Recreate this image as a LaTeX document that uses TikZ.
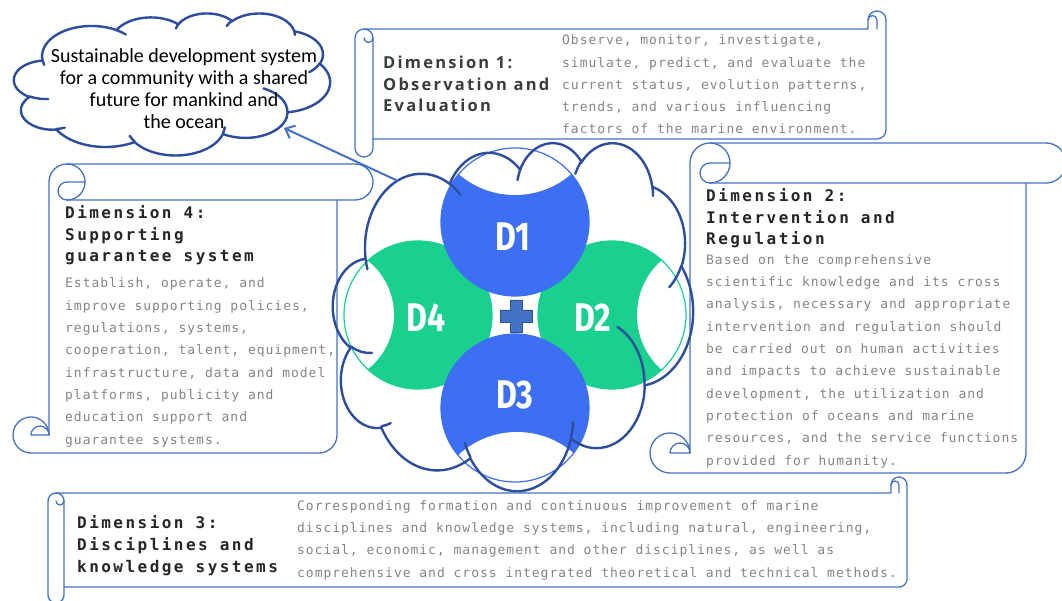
\documentclass[tikz,border=0pt]{standalone}
\usepackage{fontspec}
\usetikzlibrary{arrows.meta}
\setmainfont{Noto Sans}
\newfontfamily\cloudfont{Carlito}
\newfontfamily\bodyfont[LetterSpace=7.5]{DejaVu Sans Mono}
\newfontfamily\monotitle[LetterSpace=15.4]{DejaVu Sans Mono}
\newfontfamily\sanstitle[LetterSpace=13.5]{Open Sans}
\newfontfamily\dfont[FakeStretch=0.8]{Fira Sans}
\definecolor{sblue}{HTML}{4472C4}
\definecolor{navy}{HTML}{2F4D9E}
\definecolor{dblue}{HTML}{3D6FF2}
\definecolor{dgreen}{HTML}{19D08F}
\definecolor{bodygray}{HTML}{858585}
\definecolor{titlegray}{HTML}{262626}
\definecolor{plusedge}{HTML}{2F5597}
\tikzset{
  scrollline/.style={draw=sblue, line width=1.3pt, line join=round, line cap=round},
  cloudline/.style={draw=navy, line width=2.4pt, line cap=round},
  bodytext/.style={font={\bodyfont\fontsize{13}{22.3}\selectfont}, text=bodygray, align=left, inner sep=0pt, anchor=base west},
  monohead/.style={font={\monotitle\bfseries\fontsize{16}{21.5}\selectfont}, text=titlegray, align=left, inner sep=0pt, anchor=base west},
  sanshead/.style={font={\sanstitle\bfseries\fontsize{16.5}{21.5}\selectfont}, text=titlegray!90, align=left, inner sep=0pt, anchor=base west},
  dlabel/.style={font={\dfont\bfseries\fontsize{40}{40}\selectfont}, text=white, inner sep=0pt},
  arrowline/.style={draw=sblue, line width=2pt, -{Straight Barb[length=8pt,width=14pt]}},
}
% PowerPoint-like cloud arc: wR hR stAng swAng (visual angles, degrees)
\newcommand\carc[4]{arc[x radius=#1, y radius=#2, start angle={atan2(#1*sin(#3),#2*cos(#3))}, delta angle={mod(atan2(#1*sin(#3+#4),#2*cos(#3+#4))-atan2(#1*sin(#3),#2*cos(#3))+720,360)}]}
\newcommand\pptcloud[4]{%
\begin{scope}[shift={(#1,#2)}, xscale=#3/43.2, yscale=#4/43.2]
\draw[cloudline] (3.900,14.370) \carc{6.753}{9.190}{-190.4875}{123.7805}
  \carc{5.333}{7.267}{-144.1024}{89.9452}
  \carc{4.365}{5.945}{-145.8079}{99.7230}
  \carc{4.857}{6.595}{-130.9861}{117.2417}
  \carc{5.333}{7.273}{-78.7089}{109.0269}
  \carc{6.775}{9.220}{-46.2673}{130.2690}
  \carc{5.785}{7.867}{0.6250}{114.0333}
  \carc{6.752}{9.215}{22.4516}{115.1726}
  \carc{7.720}{10.543}{66.2426}{75.7110}
  \carc{4.360}{5.918}{-274.9421}{146.7356}
  \carc{4.345}{5.945}{-246.8285}{152.5189} -- cycle;
\draw[cloudline] (4.693,26.177) \carc{4.345}{5.945}{86.7420}{26.4295}
  (6.928,34.899) \carc{4.360}{5.918}{73.6105}{11.4475}
  (16.478,39.090) \carc{6.752}{9.215}{137.6242}{14.0811}
  (28.827,34.751) \carc{6.752}{9.215}{6.4533}{15.9984}
  (34.129,22.954) \carc{5.785}{7.867}{-70.2924}{70.9174}
  (41.798,15.354) \carc{5.333}{7.273}{30.3180}{27.7515}
  (38.324,5.426) \carc{4.857}{6.595}{-13.7443}{14.8589}
  (29.078,3.952) \carc{4.857}{6.595}{-149.1815}{18.1954}
  (22.141,4.720) \carc{4.365}{5.945}{-163.4943}{17.6864}
  (14.000,5.192) \carc{6.753}{9.190}{-66.7070}{12.3194}
  (4.127,15.789) \carc{6.753}{9.190}{157.6544}{11.8582};
\end{scope}}
% horizontal scroll: l t r b ch
\newcommand\hscroll[5]{%
\pgfmathsetmacro\scrL{#1}\pgfmathsetmacro\scrT{#2}\pgfmathsetmacro\scrR{#3}\pgfmathsetmacro\scrB{#4}%
\pgfmathsetmacro\scrC{#5}\pgfmathsetmacro\scrH{#5/2}\pgfmathsetmacro\scrQ{#5/4}%
\draw[scrollline] ({\scrL+\scrH},{\scrT+\scrC}) -- ({\scrR-\scrC-\scrH},{\scrT+\scrC}) -- ({\scrR-\scrC-\scrH},{\scrT+\scrH}) arc[start angle=180, end angle=360, radius=\scrH] -- ({\scrR-\scrH},{\scrB-\scrC-\scrH}) arc[start angle=0, end angle=90, radius=\scrH] -- ({\scrL+\scrC},{\scrB-\scrC});
\draw[scrollline] ({\scrR-\scrC},{\scrT+\scrC}) -- ({\scrR-\scrC},{\scrT+\scrH}) arc[start angle=0, end angle=-180, radius=\scrQ];
\draw[scrollline] (\scrL,{\scrT+\scrC+\scrH}) -- (\scrL,{\scrB-\scrH}) arc[start angle=180, end angle=0, radius=\scrH] -- ({\scrL+\scrC},{\scrT+\scrC+\scrH}) arc[start angle=0, end angle=-180, radius=\scrH];
\draw[scrollline] ({\scrL+\scrC},{\scrT+\scrC+\scrH}) arc[start angle=0, end angle=180, radius=\scrQ];
}
% vertical scroll: l t r b ch
\newcommand\vscroll[5]{%
\pgfmathsetmacro\scrL{#1}\pgfmathsetmacro\scrT{#2}\pgfmathsetmacro\scrR{#3}\pgfmathsetmacro\scrB{#4}%
\pgfmathsetmacro\scrC{#5}\pgfmathsetmacro\scrH{#5/2}\pgfmathsetmacro\scrQ{#5/4}%
\draw[scrollline] ({\scrL+\scrC+\scrH},\scrT) -- ({\scrR-\scrH},\scrT) arc[start angle=-90, end angle=90, radius=\scrH] -- ({\scrL+\scrC+\scrH},{\scrT+\scrC});
\draw[scrollline] ({\scrL+\scrC},{\scrB-\scrH}) -- ({\scrL+\scrC},{\scrT+\scrH}) arc[start angle=180, end angle=450, radius=\scrH];
\draw[scrollline] ({\scrL+\scrC+\scrC},{\scrT+\scrH}) -- ({\scrL+\scrC+\scrH},{\scrT+\scrH}) arc[start angle=-90, end angle=-270, radius=\scrQ];
\draw[scrollline] ({\scrR-\scrC},{\scrT+\scrC}) -- ({\scrR-\scrC},{\scrB-\scrH}) arc[start angle=0, end angle=90, radius=\scrH] -- ({\scrL+\scrH},\scrB) arc[start angle=90, end angle=360, radius=\scrH];
\draw[scrollline] ({\scrL+\scrC},{\scrB-\scrH}) -- ({\scrL+\scrH},{\scrB-\scrH}) arc[start angle=180, end angle=360, radius=\scrQ];
}
\begin{document}
\begin{tikzpicture}[x=1pt, y=1pt, yscale=-1]
\fill[white] (0,0) rectangle (1062,601);
\useasboundingbox (0,0) rectangle (1062,601);

% scrolls
\hscroll{355}{11}{895}{157}{18}
\vscroll{13}{164}{373}{453}{36}
\vscroll{650}{143}{1066}{473}{40}
\hscroll{48}{477}{915}{603}{16}

% green circles
\fill[dgreen] (418,315) circle[radius=74];
\begin{scope}\clip (418,315) circle[radius=74]; \fill[white] (325,315) circle[radius=69];\end{scope}
\draw[dgreen, line width=1.2pt] (418,315) circle[radius=74];
\fill[dgreen] (612,315) circle[radius=74];
\begin{scope}\clip (612,315) circle[radius=74]; \fill[white] (710,315) circle[radius=73];\end{scope}
\draw[dgreen, line width=1.2pt] (612,315) circle[radius=74];
% blue circles
\fill[dblue] (515,222) circle[radius=74];
\begin{scope}\clip (515,222) circle[radius=74]; \fill[white] (515,109) circle[radius=86];\end{scope}
\draw[dblue, line width=1.2pt] (515,222) circle[radius=74];
\fill[dblue] (515,408) circle[radius=74];
\begin{scope}\clip (515,408) circle[radius=74]; \fill[white] (517,518) circle[radius=86];\end{scope}
\draw[dblue, line width=1.2pt] (515,408) circle[radius=74];

% plus sign
\draw[fill=sblue, draw=plusedge, line width=0.8pt] (510,300) -- (522,300) -- (522,310) -- (532,310) -- (532,322) -- (522,322) -- (522,332) -- (510,332) -- (510,322) -- (500,322) -- (500,310) -- (510,310) -- cycle;

\node[dlabel] (lab1) at (513,237) {D1};
\node[dlabel] (lab2) at (593,318) {D2};
\node[dlabel] (lab3) at (515,395) {D3};
\node[dlabel] (lab4) at (426,318) {D4};

% clouds
\pptcloud{333}{142}{360}{348}
\pptcloud{14}{13}{316}{142}

\node[font={\cloudfont\fontsize{20}{22}\selectfont}, align=center, inner sep=0pt, anchor=base] (goal) at (184,129) {Sustainable development system\\for a community with a shared\\future for mankind and\\the ocean};

% arrow
\coordinate (arrowfrom) at (398,181);
\coordinate (arrowto) at (284,128);
\draw[arrowline] (arrowfrom) -- (arrowto);

% texts
\node[sanshead] (d1title) at (383,112) {Dimension 1:\\Observation and\\Evaluation};
\node[bodytext] (d1body) at (562,134) {Observe, monitor, investigate,\\simulate, predict, and evaluate the\\current status, evolution patterns,\\trends, and various influencing\\factors of the marine environment.};

\node[monohead] (d2title) at (706,245) {Dimension 2:\\Intervention and\\Regulation};
\node[bodytext] (d2body) at (706,465) {Based on the comprehensive\\scientific knowledge and its cross\\analysis, necessary and appropriate\\intervention and regulation should\\be carried out on human activities\\and impacts to achieve sustainable\\development, the utilization and\\protection of oceans and marine\\resources, and the service functions\\provided for humanity.};

\node[monohead] (d4title) at (65,262) {Dimension 4:\\Supporting\\guarantee system};
\node[bodytext] (d4body) at (65,444) {Establish, operate, and\\improve supporting policies,\\regulations, systems,\\cooperation, talent, equipment,\\infrastructure, data and model\\platforms, publicity and\\education support and\\guarantee systems.};

\node[monohead, font={\monotitle\bfseries\fontsize{16}{22}\selectfont}] (d3title) at (77,572) {Dimension 3:\\Disciplines and\\knowledge systems};
\node[bodytext] (d3body) at (297,577) {Corresponding formation and continuous improvement of marine\\disciplines and knowledge systems, including natural, engineering,\\social, economic, management and other disciplines, as well as\\comprehensive and cross integrated theoretical and technical methods.};
\end{tikzpicture}
\end{document}
